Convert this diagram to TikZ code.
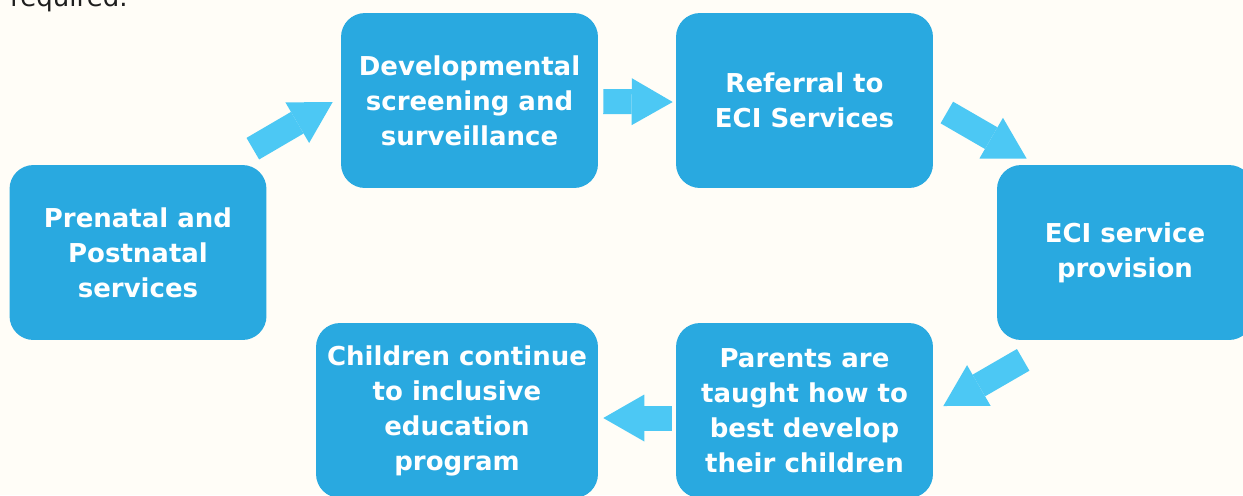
\documentclass[tikz,border=0pt]{standalone}
\usepackage{fontspec}
\setmainfont{DejaVu Sans}
\usepackage{tikz}
\usepackage{xcolor}
\usetikzlibrary{arrows.meta, positioning, calc}
\definecolor{boxblue}{RGB}{41,169,224}
\definecolor{arrowblue}{RGB}{76,200,244}
\definecolor{paper}{RGB}{255,253,247}
\definecolor{inkgray}{RGB}{30,30,30}
\tikzset{
  stage/.style={rectangle, rounded corners=0.48cm, fill=boxblue,
                text=white, align=center, minimum width=5.14cm,
                minimum height=3.5cm, inner sep=0pt,
                font=\fontsize{14.8pt}{19.9pt}\selectfont\bfseries},
  fatarr/.style={line width=0.5cm, color=arrowblue,
                 -{Triangle[length=0.82cm, width=0.94cm, line width=0pt]}},
}
\begin{document}
\begin{tikzpicture}[x=0.02cm, y=-0.02cm]
  % Page (pixels of the slide, y going down)
  \clip (0,0) rectangle (1243,495);
  \fill[paper] (0,0) rectangle (1243,495);

  % Line cut off at the top
  \node[anchor=base west, inner sep=0pt, text=inkgray,
        font=\fontsize{14.8pt}{19.9pt}\selectfont] (req) at (10,6) {required.};

  % Stages
  \node[stage] (pre) at (138,252.5)  {Prenatal and\\Postnatal\\services};
  \node[stage] (dev) at (469.5,100.5) {Developmental\\screening and\\surveillance};
  \node[stage] (ref) at (804.5,100.5) {Referral to\\ECI Services};
  \node[stage, minimum width=5.12cm] (eci) at (1125,252.5) {ECI service\\provision};
  \node[stage] (par) at (804.5,410.5) {Parents are\\taught how to\\best develop\\their children};
  \node[stage, minimum width=5.64cm] (chi) at (457,410.5) {Children continue\\to inclusive\\education\\program};

  % Block arrows between stages
  \draw[fatarr] ($(pre.north east)+(-14,-16)$) -- ($(dev.west)+(-8,1.5)$);
  \draw[fatarr] ($(dev.east)+(5,1)$) -- ($(ref.west)+(-3,1.5)$);
  \draw[fatarr] ($(ref.east)+(13.5,12)$) -- ($(eci.north west)+(30,-6)$);
  \draw[fatarr] ($(eci.south west)+(26.5,19.5)$) -- ($(par.east)+(10,-4.5)$);
  \draw[fatarr] ($(par.west)+(-4,7.5)$) -- ($(chi.east)+(5,7.5)$);
\end{tikzpicture}
\end{document}
